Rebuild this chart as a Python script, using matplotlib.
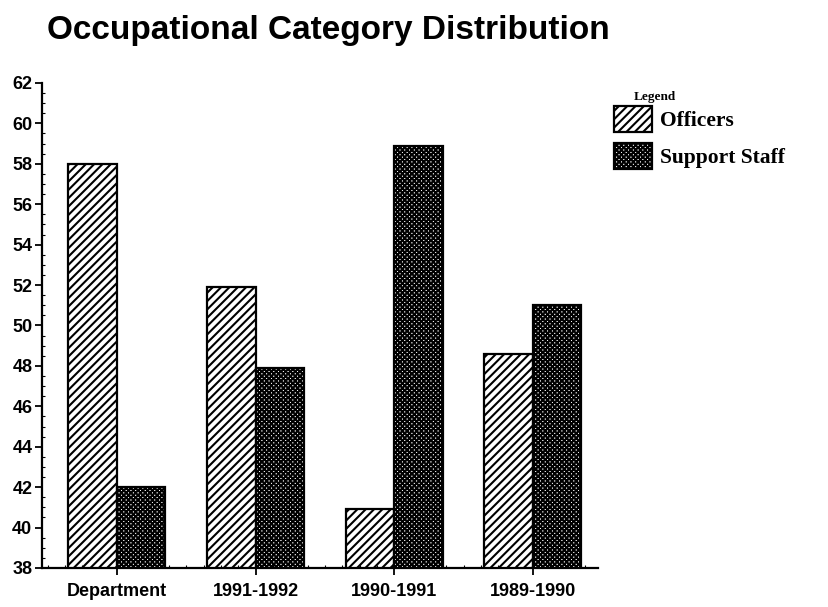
import matplotlib.pyplot as plt
import numpy as np
from matplotlib.ticker import MultipleLocator

categories = ['Department', '1991-1992', '1990-1991', '1989-1990']
officers = [58.0, 51.9, 40.9, 48.6]
support_staff = [42.0, 47.9, 58.9, 51.0]
series_names = ['Officers', 'Support Staff']
y_ticks = list(range(38, 63, 2))

plt.rcParams['hatch.linewidth'] = 1.5

fig = plt.figure(figsize=(8.29, 6.07), dpi=100)
ax = fig.add_axes([0.0507, 0.0643, 0.6707, 0.7990])

x = np.arange(len(categories))
w = 0.35

# Officers: diagonal lines
b1 = ax.bar(x - w / 2, officers, width=w, facecolor='white',
            edgecolor='black', hatch='////', linewidth=1.6)
# Support staff: dense cross hatch -> dark with white dots
b2 = ax.bar(x + w / 2, support_staff, width=w, facecolor='white',
            edgecolor='black', hatch='xxxxxxx', linewidth=1.6)

ax.set_ylim(38, 62)
ax.set_xlim(-0.54, 3.47)
ax.set_yticks(y_ticks)
ax.set_yticklabels([str(v) for v in y_ticks])
ax.yaxis.set_minor_locator(MultipleLocator(0.5))
ax.set_xticks(x)
ax.set_xticklabels(categories)
ax.xaxis.set_minor_locator(MultipleLocator(0.125))

for lab in ax.get_xticklabels() + ax.get_yticklabels():
    lab.set_fontfamily('Liberation Sans')
    lab.set_fontweight('bold')
    lab.set_fontsize(13)

ax.tick_params(axis='both', which='major', direction='out', length=5, width=1.3)
ax.tick_params(axis='y', which='minor', direction='in', length=2, width=0.8)
ax.tick_params(axis='x', which='minor', direction='in', length=2, width=0.8)
ax.tick_params(axis='x', which='major', pad=6)
ax.tick_params(axis='y', which='major', pad=2)

ax.spines['top'].set_visible(False)
ax.spines['right'].set_visible(False)
ax.spines['left'].set_linewidth(1.6)
ax.spines['bottom'].set_linewidth(1.6)

fig.text(47 / 829, 1 - 30 / 607, 'Occupational Category Distribution',
         fontsize=24, fontfamily='Liberation Sans', fontweight='bold',
         ha='left', va='center')

fig.text(655 / 829, 1 - 97 / 607, 'Legend', fontsize=9.5,
         fontfamily='Liberation Serif', fontweight='bold',
         ha='center', va='center')

fig.legend([b1[0], b2[0]], series_names, loc='upper left',
           bbox_to_anchor=(614 / 829, 1 - 106 / 607), frameon=False,
           borderpad=0, borderaxespad=0,
           prop={'family': 'Liberation Serif', 'weight': 'bold', 'size': 15.5},
           handlelength=1.75, handleheight=1.45, handletextpad=0.4,
           labelspacing=0.55)

fig.savefig('out.png', dpi=100)
